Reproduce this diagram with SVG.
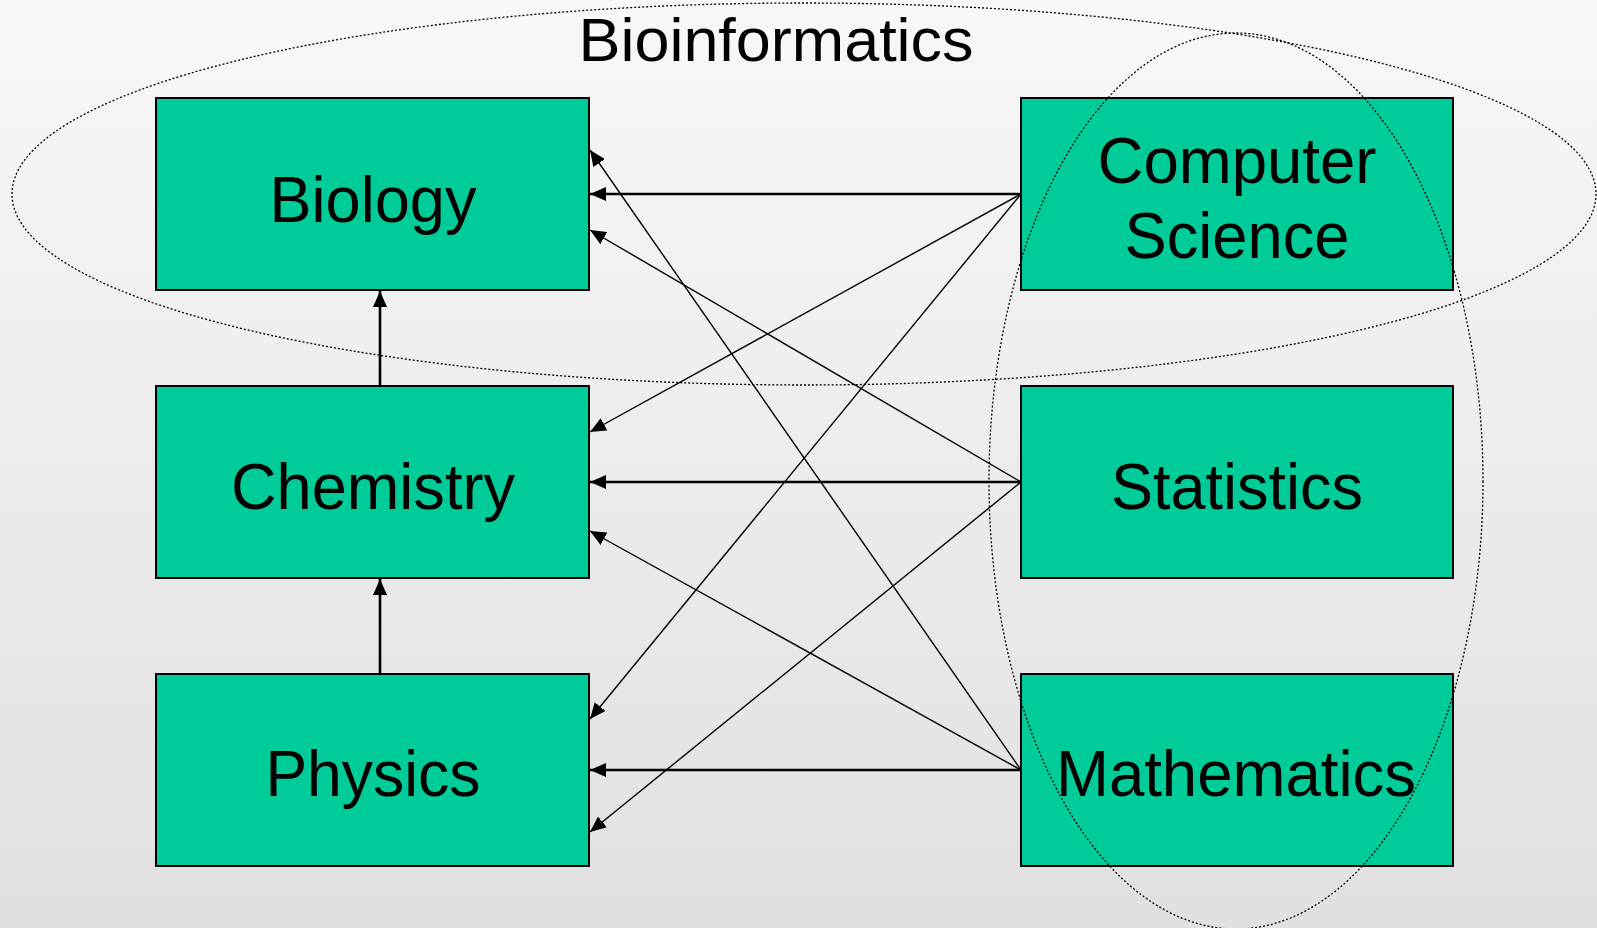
<svg xmlns="http://www.w3.org/2000/svg" width="1597" height="928" viewBox="0 0 1597 928">
<defs>
<linearGradient id="bg" x1="0" y1="0" x2="0" y2="1">
<stop offset="0" stop-color="#f8f8f8"/>
<stop offset="1" stop-color="#e0e0e0"/>
</linearGradient>
<marker id="ah" markerUnits="userSpaceOnUse" markerWidth="16" markerHeight="14" viewBox="0 0 16 14" refX="16" refY="7" orient="auto">
<path d="M0,0 L16,7 L0,14 Z" fill="#000"/>
</marker>
<style>
.box{fill:#00cc99;stroke:#000;stroke-width:2}
.lbl{font-family:"Liberation Sans","DejaVu Sans",sans-serif;font-size:65px;fill:#000;text-anchor:middle}
.thick{stroke:#000;stroke-width:2.6;fill:none;marker-end:url(#ah)}
.thin{stroke:#000;stroke-width:1.4;fill:none;marker-end:url(#ah)}
.dot{fill:none;stroke:#000;stroke-width:1.3;stroke-dasharray:2 2}
</style>
</defs>
<rect x="0" y="0" width="1597" height="928" fill="url(#bg)"/>
<g id="biology"><rect class="box" x="156" y="98" width="433" height="192"/><text class="lbl" x="373" y="222" textLength="207" lengthAdjust="spacingAndGlyphs">Biology</text></g>
<g id="chemistry"><rect class="box" x="156" y="386" width="433" height="192"/><text class="lbl" x="373" y="509" textLength="284" lengthAdjust="spacingAndGlyphs">Chemistry</text></g>
<g id="physics"><rect class="box" x="156" y="674" width="433" height="192"/><text class="lbl" x="373" y="796" textLength="215" lengthAdjust="spacingAndGlyphs">Physics</text></g>
<g id="computer-science"><rect class="box" x="1021" y="98" width="432" height="192"/><text class="lbl" x="1237" y="183" textLength="279" lengthAdjust="spacingAndGlyphs">Computer</text><text class="lbl" x="1237" y="258" textLength="225" lengthAdjust="spacingAndGlyphs">Science</text></g>
<g id="statistics"><rect class="box" x="1021" y="386" width="432" height="192"/><text class="lbl" x="1237" y="509" textLength="252" lengthAdjust="spacingAndGlyphs">Statistics</text></g>
<g id="mathematics"><rect class="box" x="1021" y="674" width="432" height="192"/><text class="lbl" x="1236" y="796" textLength="360" lengthAdjust="spacingAndGlyphs">Mathematics</text></g>
<g id="connectors">
<line class="thick" x1="380" y1="386" x2="380" y2="291"/>
<line class="thick" x1="380" y1="674" x2="380" y2="579"/>
<line class="thick" x1="1021" y1="194" x2="590" y2="194"/>
<line class="thick" x1="1021" y1="482" x2="590" y2="482"/>
<line class="thick" x1="1021" y1="770" x2="590" y2="770"/>
<line class="thin" x1="1021" y1="194" x2="590" y2="432"/>
<line class="thin" x1="1021" y1="194" x2="590" y2="719"/>
<line class="thin" x1="1021" y1="482" x2="590" y2="230"/>
<line class="thin" x1="1021" y1="482" x2="590" y2="832"/>
<line class="thin" x1="1021" y1="770" x2="590" y2="150"/>
<line class="thin" x1="1021" y1="770" x2="590" y2="531"/>
</g>
<g id="groups">
<ellipse class="dot" cx="804" cy="194" rx="792" ry="191"/>
<ellipse class="dot" cx="1236" cy="481" rx="247" ry="448"/>
<text id="bioinformatics" x="776" y="61" font-family="Liberation Sans, DejaVu Sans, sans-serif" font-size="62" text-anchor="middle" textLength="395" lengthAdjust="spacingAndGlyphs">Bioinformatics</text>
</g>
</svg>
